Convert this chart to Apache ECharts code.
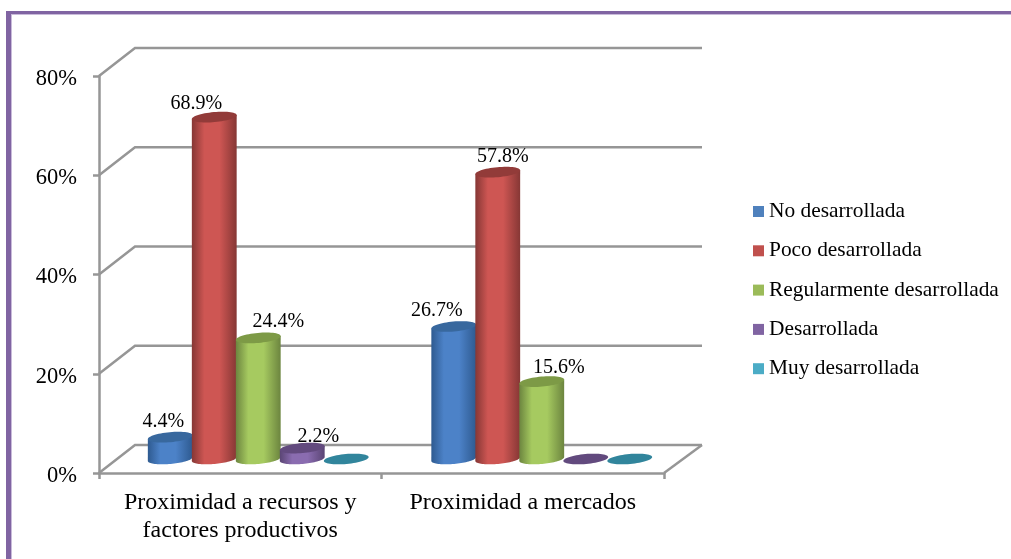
<!DOCTYPE html>
<html>
<head>
<meta charset="utf-8">
<style>html,body{margin:0;padding:0;background:#fff}#chart{width:1011px;height:559px}</style>
<script src="https://cdn.jsdelivr.net/npm/echarts@6/dist/echarts.min.js"></script>
</head>
<body>
<div id="chart"></div>
<script>
// Category and tick labels
const categories = ['Proximidad a recursos y\nfactores productivos', 'Proximidad a mercados'];
const valueTicks = [0, 20, 40, 60, 80];

// Percentage per category, one list per level of development
const noDesarrollada = [4.4, 26.7];
const pocoDesarrollada = [68.9, 57.8];
const regularmenteDesarrollada = [24.4, 15.6];
const desarrollada = [2.2, 0];
const muyDesarrollada = [0, 0];

// Hand-placed data labels: [shift from the cylinder axis, lift above the cap], per category
const labelPosNo = [[-7, 15], [-17, 16]];
const labelPosPoco = [[-18, 13], [5, 15]];
const labelPosRegular = [[20, 16], [17, 14]];
const labelPosDes = [[16, 11], [0, 0]];
const labelPosMuy = [[0, 0], [0, 0]];

const SERIF = '"Liberation Serif", serif';
const WALL = '#969696';
const WALL_W = 2.5;
const DEPTH_X = 36, DEPTH_Y = 28;  // offset from front plane to back wall
const BAR_W = 45;                  // cylinder diameter
const TILT = -0.09, RY = 5;        // perspective of the cylinder caps
const STEP = 44;

const palette = [
  {name: 'No desarrollada', flat: '#4F81BD', mid: '#4C82C8', edge: '#2E5A90', cap: '#38689E', values: noDesarrollada, pos: labelPosNo},
  {name: 'Poco desarrollada', flat: '#C0504D', mid: '#CE5653', edge: '#863735', cap: '#923B39', values: pocoDesarrollada, pos: labelPosPoco},
  {name: 'Regularmente desarrollada', flat: '#9BBB59', mid: '#A6CA60', edge: '#6C853F', cap: '#7D9A46', values: regularmenteDesarrollada, pos: labelPosRegular},
  {name: 'Desarrollada', flat: '#8064A2', mid: '#8A6CB0', edge: '#5A4574', cap: '#624A7E', values: desarrollada, pos: labelPosDes},
  {name: 'Muy desarrollada', flat: '#4BACC6', mid: '#4BACC6', edge: '#2C7F96', cap: '#31859C', values: muyDesarrollada, pos: labelPosMuy}
];

// Point on a tilted cap outline, angle t around the centre (cx, cy)
function capPoint(cx, cy, t) {
  const rx = BAR_W / 2;
  return [
    cx + rx * Math.cos(t) * Math.cos(TILT) - RY * Math.sin(t) * Math.sin(TILT),
    cy + rx * Math.cos(t) * Math.sin(TILT) + RY * Math.sin(t) * Math.cos(TILT)
  ];
}

function capOutline(cx, cy) {
  const pts = [];
  for (let i = 0; i < 60; i++) pts.push(capPoint(cx, cy, i / 60 * Math.PI * 2));
  return pts;
}

function cylinderRenderer(seriesIndex, style) {
  return function (params, api) {
    const cat = api.value(0), val = api.value(1);
    const top = api.coord([cat, val]);
    const base = api.coord([cat, 0]);
    const cx = top[0] + DEPTH_X / 2 + (seriesIndex - 2) * STEP + cat;
    const cyTop = top[1] - DEPTH_Y / 2;
    const cyBase = base[1] - DEPTH_Y / 2;
    const children = [];
    if (val > 0) {
      // Body: down the left edge, around the lower rim, up the right edge
      const pts = [capPoint(cx, cyTop, Math.PI)];
      for (let i = 0; i <= 40; i++) pts.push(capPoint(cx, cyBase, Math.PI - i / 40 * Math.PI));
      pts.push(capPoint(cx, cyTop, 0));
      children.push({
        type: 'polygon',
        shape: {points: pts},
        style: {
          fill: new echarts.graphic.LinearGradient(0, 0, 1, 0, [
            {offset: 0, color: style.edge},
            {offset: 0.28, color: style.mid},
            {offset: 0.62, color: style.mid},
            {offset: 1, color: style.edge}
          ])
        }
      });
    }
    children.push({
      type: 'polygon',
      shape: {points: capOutline(cx, cyTop)},
      style: {fill: style.cap}
    });
    if (val > 0) {
      const pos = style.pos[cat];
      children.push({
        type: 'text',
        z2: 100,
        style: {
          text: val.toFixed(1) + '%',
          x: cx + pos[0],
          y: cyTop - pos[1],
          align: 'center',
          verticalAlign: 'middle',
          font: '20px ' + SERIF,
          fill: '#000'
        }
      });
    }
    return {type: 'group', children: children};
  };
}

// Back wall: one receding line and one horizontal line per tick, plus the floor edge
function wallRenderer(params, api) {
  const box = params.coordSys;
  const y = api.coord([0, api.value(0)])[1];
  const x0 = box.x, x1 = box.x + box.width;
  const lineStyle = {stroke: WALL, lineWidth: WALL_W, fill: null};
  const children = [{
    type: 'polyline',
    shape: {points: [[x0, y], [x0 + DEPTH_X, y - DEPTH_Y], [x1 + DEPTH_X + 2, y - DEPTH_Y]]},
    style: lineStyle
  }];
  if (api.value(0) === 0) {
    children.push({
      type: 'line',
      shape: {x1: x1, y1: y, x2: x1 + DEPTH_X + 2, y2: y - DEPTH_Y},
      style: lineStyle
    });
  }
  return {type: 'group', children: children};
}

const chart = echarts.init(document.getElementById('chart'), null, {renderer: 'canvas'});
chart.setOption({
  animation: false,
  backgroundColor: '#fff',
  textStyle: {fontFamily: SERIF},
  grid: {left: 99, right: 347, top: 76, bottom: 86, containLabel: false},
  graphic: [
    {type: 'rect', shape: {x: 6, y: 11, width: 1005, height: 3}, style: {fill: '#8064A2'}},
    {type: 'rect', shape: {x: 6, y: 14, width: 1005, height: 1}, style: {fill: '#C9BBDA'}},
    {type: 'rect', shape: {x: 6, y: 11, width: 5, height: 548}, style: {fill: '#8064A2'}},
    {type: 'rect', shape: {x: 11, y: 14, width: 1, height: 545}, style: {fill: '#C9BBDA'}}
  ],
  legend: {
    orient: 'vertical',
    left: 748,
    top: 196,
    itemWidth: 11,
    itemHeight: 11,
    itemGap: 18.3,
    icon: 'rect',
    data: palette.map(p => p.name),
    textStyle: {fontFamily: SERIF, fontSize: 21.4, color: '#000'},
    selectedMode: false
  },
  xAxis: {
    type: 'category',
    data: categories,
    axisLine: {lineStyle: {color: WALL, width: WALL_W}},
    axisTick: {show: true, length: 6, alignWithLabel: false, lineStyle: {color: WALL, width: WALL_W}},
    axisLabel: {fontFamily: SERIF, fontSize: 24, color: '#000', lineHeight: 28, margin: 16, interval: 0}
  },
  yAxis: {
    type: 'value',
    min: valueTicks[0],
    max: valueTicks[valueTicks.length - 1],
    interval: 20,
    axisLine: {show: true, lineStyle: {color: WALL, width: WALL_W}},
    axisTick: {show: true, length: 6, lineStyle: {color: WALL, width: WALL_W}},
    splitLine: {show: false},
    axisLabel: {
      margin: 22,
      formatter: '{tick|{value}%}',
      rich: {tick: {fontFamily: SERIF, fontSize: 22.5, color: '#000', padding: [6, 0, 0, 0]}}
    }
  },
  series: [
    {
      type: 'custom',
      name: 'wall',
      renderItem: wallRenderer,
      coordinateSystem: 'cartesian2d',
      encode: {y: 0},
      data: valueTicks.map(t => [t]),
      silent: true,
      z: 1
    }
  ].concat(palette.map((p, idx) => ({
    type: 'custom',
    name: p.name,
    coordinateSystem: 'cartesian2d',
    renderItem: cylinderRenderer(idx, p),
    itemStyle: {color: p.flat},
    encode: {x: 0, y: 1},
    data: p.values.map((v, i) => [i, v]),
    z: 2
  })))
});
</script>
</body>
</html>
